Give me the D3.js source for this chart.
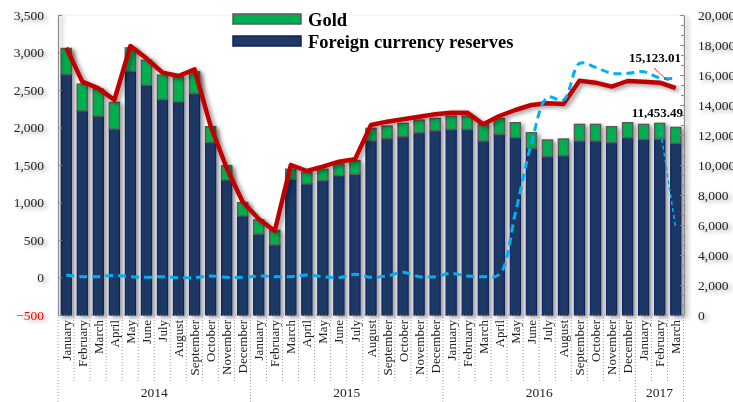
<!DOCTYPE html>
<html lang="en">
  <head>
    <meta charset="utf-8" />
    <title>Reserves</title>
    <script type="text/javascript" src="https://cdn.jsdelivr.net/npm/d3@7"></script>
    <style type="text/css">
body { margin: 0; background: white; }
svg text { font-family: "Liberation Serif", "Times New Roman", serif; }
    </style>
  </head>
  <body>
    <script type="text/javascript">
// monthly data, Jan 2014 .. Mar 2017
var months = ["January", "February", "March", "April", "May", "June", "July",
              "August", "September", "October", "November", "December"];
var labels = months.concat(months, months, months.slice(0, 3));
var years = ["2014", "2015", "2016", "2017"];
var yearCounts = [12, 12, 12, 3];

// left axis (bars)
var fx = [2707, 2222, 2152, 1979, 2751, 2565, 2374, 2342, 2454, 1802, 1300, 821,
          578, 435, 1310, 1247, 1291, 1357, 1376, 1823, 1855, 1876, 1930, 1956,
          1975, 1975, 1819, 1908, 1863, 1722, 1610, 1624, 1819, 1819, 1797, 1863,
          1842, 1846, 1789];
var gold = [346, 356, 359, 355, 310, 332, 324, 333, 287, 208, 191, 177,
            190, 190, 133, 156, 152, 156, 181, 165, 164, 179, 169, 165,
            177, 177, 222, 213, 200, 208, 223, 222, 222, 222, 213, 200,
            199, 209, 212];
// right axis (lines)
var redLine = [17822, 15556, 15111, 14333, 17933, 17111, 16156, 15933, 16378, 12600, 9800, 7550,
               6400, 5600, 10000, 9600, 9889, 10222, 10378, 12667, 12889, 13044, 13222, 13378,
               13489, 13489, 12711, 13267, 13667, 14000, 14111, 14067, 15622, 15489, 15222, 15600,
               15556, 15489, 15123];
var blueLine = [2667, 2556, 2556, 2644, 2556, 2511, 2556, 2489, 2489, 2600, 2511, 2511,
                2600, 2556, 2556, 2667, 2556, 2489, 2711, 2511, 2600, 2844, 2556, 2556,
                2778, 2600, 2556, 2700, 6800, 11444, 14511, 14333, 16778, 16511, 16111, 16111,
                16222, 15800, 15770];
var thinLine = [[37, 12667], [38, 5778]];

var leftTicks = d3.range(-500, 3501, 500);
var rightTicks = d3.range(0, 20001, 2000);

var w = 733;
var h = 402;
var pad = { left: 58, right: 49, top: 15, bottom: 87 };

var svg = d3.select("body")
            .append("svg")
            .attr("width", w)
            .attr("height", h);

var defs = svg.append("defs");
var shadow = defs.append("filter")
                 .attr("id", "shadow")
                 .attr("x", "-20%").attr("y", "-20%")
                 .attr("width", "160%").attr("height", "160%");
shadow.append("feDropShadow")
      .attr("dx", 3).attr("dy", 2)
      .attr("stdDeviation", 2)
      .attr("flood-color", "#000")
      .attr("flood-opacity", 0.4);

var x = d3.scaleBand()
          .domain(d3.range(labels.length))
          .range([pad.left, w - pad.right])
          .paddingInner(0.37)
          .paddingOuter(0.2);
var yL = d3.scaleLinear().domain([-500, 3500]).range([h - pad.bottom, pad.top]);
var yR = d3.scaleLinear().domain([0, 20000]).range([h - pad.bottom, pad.top]);
var cx = function(i) { return x(i) + x.bandwidth() / 2; };

// faint top border
svg.append("line")
   .attr("x1", pad.left).attr("x2", w - pad.right)
   .attr("y1", pad.top).attr("y2", pad.top)
   .attr("stroke", "#eeeeee");

// bars
var bars = svg.append("g").attr("filter", "url(#shadow)");
bars.selectAll("rect.fx")
    .data(fx)
    .enter()
    .append("rect")
    .attr("class", "fx")
    .attr("x", function(d, i) { return x(i); })
    .attr("y", function(d) { return yL(d); })
    .attr("width", x.bandwidth())
    .attr("height", function(d) { return yL(-500) - yL(d); })
    .attr("fill", "#1f3864")
    .attr("stroke", "#0c2262")
    .attr("stroke-width", 1.2);
bars.selectAll("rect.gold")
    .data(gold)
    .enter()
    .append("rect")
    .attr("class", "gold")
    .attr("x", function(d, i) { return x(i); })
    .attr("y", function(d, i) { return yL(fx[i] + d); })
    .attr("width", x.bandwidth())
    .attr("height", function(d, i) { return yL(fx[i]) - yL(fx[i] + d); })
    .attr("fill", "#00b050")
    .attr("stroke", "#5a5a5a")
    .attr("stroke-width", 1.5);

// axes
var axisG = svg.append("g").attr("filter", "url(#shadow)");
var leftAxis = axisG.append("g")
   .attr("transform", "translate(" + pad.left + ",0)")
   .call(d3.axisLeft(yL).tickValues(leftTicks).tickSizeInner(-4).tickSizeOuter(0)
           .tickPadding(14).tickFormat(d3.format(",")));
var rightAxis = axisG.append("g")
   .attr("transform", "translate(" + (w - pad.right) + ",0)")
   .call(d3.axisRight(yR).tickValues(rightTicks).tickSizeInner(-4).tickSizeOuter(0)
           .tickPadding(14).tickFormat(d3.format(",")));
axisG.append("g")
   .attr("transform", "translate(" + (w - pad.right) + ",0)")
   .call(d3.axisRight(yR).tickValues(d3.range(0, 20001, 2000 / 3)).tickSizeInner(-3)
           .tickSizeOuter(0).tickFormat(""))
   .select(".domain").remove();
[leftAxis, rightAxis].forEach(function(g) {
  g.select(".domain").attr("stroke", "#8c8c8c").attr("stroke-width", 1.2);
  g.selectAll(".tick line").attr("stroke", "#8c8c8c");
  g.selectAll(".tick text")
   .attr("font-family", "Liberation Serif")
   .attr("font-size", "13.5px")
   .attr("fill", "#222");
});
axisG.selectAll(".tick line").attr("stroke", "#8c8c8c");
leftAxis.selectAll(".tick text")
        .filter(function(d) { return d < 0; })
        .attr("fill", "#ff0000");

// dotted x axis line
svg.append("line")
   .attr("x1", pad.left).attr("x2", w - pad.right)
   .attr("y1", yL(-500)).attr("y2", yL(-500))
   .attr("stroke", "#8c8c8c")
   .attr("stroke-dasharray", "1,2");

// red line (right axis)
var lineR = d3.line()
              .x(function(d, i) { return cx(i); })
              .y(function(d) { return yR(d); });
svg.append("path")
   .datum(redLine)
   .attr("d", lineR)
   .attr("fill", "none")
   .attr("stroke", "#c00000")
   .attr("stroke-width", 4.5)
   .attr("stroke-linejoin", "round")
   .attr("filter", "url(#shadow)");

// blue dashed line (right axis)
svg.append("path")
   .datum(blueLine)
   .attr("d", lineR.curve(d3.curveCatmullRom.alpha(0.5)))
   .attr("fill", "none")
   .attr("stroke", "#00b0f0")
   .attr("stroke-width", 3)
   .attr("stroke-dasharray", "8,5");

svg.append("path")
   .datum(thinLine)
   .attr("d", d3.line()
                .x(function(d) { return cx(d[0]); })
                .y(function(d) { return yR(d[1]); }))
   .attr("fill", "none")
   .attr("stroke", "#00b0f0")
   .attr("stroke-width", 1.5)
   .attr("stroke-dasharray", "4,3");

// annotations
svg.append("line")
   .attr("x1", 654).attr("y1", 68).attr("x2", 668).attr("y2", 81)
   .attr("stroke", "#ff0000").attr("stroke-width", 0.8);
svg.append("text")
   .attr("x", 681).attr("y", 62)
   .attr("text-anchor", "end")
   .attr("font-size", "13px").attr("font-weight", "bold")
   .text(d3.format(",.2f")(redLine[redLine.length - 1] + 0.01));
svg.append("text")
   .attr("x", 683).attr("y", 117)
   .attr("text-anchor", "end")
   .attr("font-size", "13px").attr("font-weight", "bold")
   .text("11,453.49");

// month labels
var bottom = yL(-500);
svg.append("g")
   .selectAll("text")
   .data(labels)
   .enter()
   .append("text")
   .attr("transform", function(d, i) {
     return "translate(" + cx(i) + "," + (bottom + 5) + ") rotate(-90)";
   })
   .attr("text-anchor", "end")
   .attr("dy", "0.35em")
   .attr("font-size", "13px")
   .attr("fill", "#222")
   .text(function(d) { return d; });

// separators
var step = x.step();
var x0 = pad.left;
var yearStarts = [0];
yearCounts.forEach(function(c, i) { yearStarts.push(yearStarts[i] + c); });
svg.append("g")
   .selectAll("line")
   .data(d3.range(labels.length + 1))
   .enter()
   .append("line")
   .attr("x1", function(i) { return x0 + i * step; })
   .attr("x2", function(i) { return x0 + i * step; })
   .attr("y1", bottom + 2)
   .attr("y2", function(i) { return yearStarts.indexOf(i) >= 0 ? h : bottom + 67; })
   .attr("stroke", "#9a9a9a")
   .attr("stroke-dasharray", "1,2");

svg.append("g")
   .selectAll("text")
   .data(years)
   .enter()
   .append("text")
   .attr("x", function(d, i) { return x0 + (yearStarts[i] + yearCounts[i] / 2) * step; })
   .attr("y", 397)
   .attr("text-anchor", "middle")
   .attr("font-size", "13.5px")
   .attr("fill", "#222")
   .text(function(d) { return d; });

// legend
var legend = [
  { name: "Gold", fill: "#00b050", stroke: "#5a5a5a", y: 14 },
  { name: "Foreign currency reserves", fill: "#1f3864", stroke: "#0c2262", y: 36 }
];
var lg = svg.append("g");
lg.selectAll("rect")
  .data(legend)
  .enter()
  .append("rect")
  .attr("x", 233).attr("y", function(d) { return d.y; })
  .attr("width", 68).attr("height", 10)
  .attr("fill", function(d) { return d.fill; })
  .attr("stroke", function(d) { return d.stroke; })
  .attr("stroke-width", 1.5);
lg.selectAll("text")
  .data(legend)
  .enter()
  .append("text")
  .attr("x", 308).attr("y", function(d) { return d.y + 12; })
  .attr("font-size", "18.5px").attr("font-weight", "bold")
  .text(function(d) { return d.name; });
    </script>
  </body>
</html>
